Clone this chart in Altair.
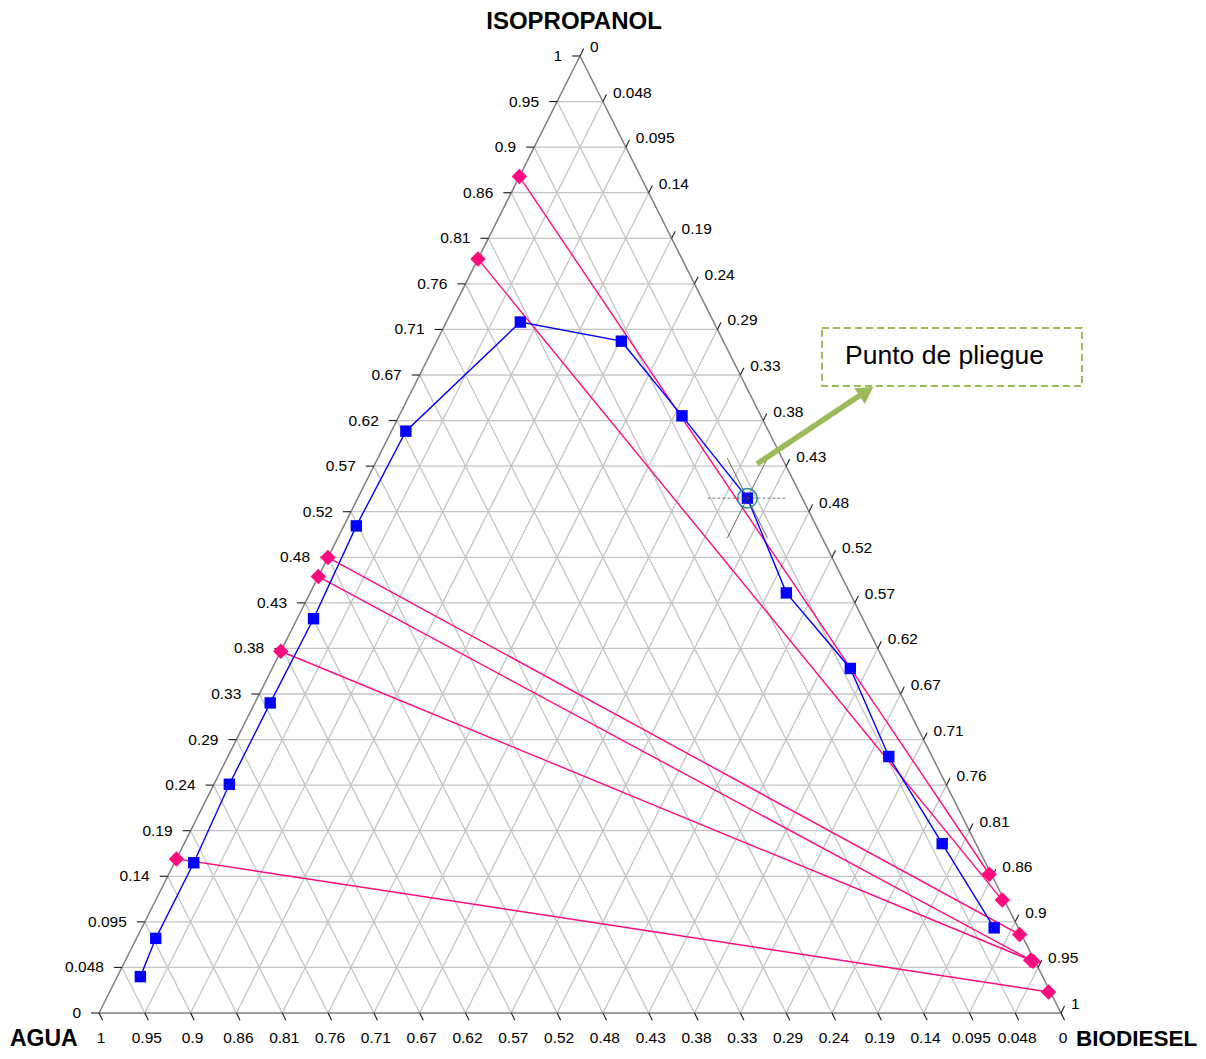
import altair as alt
import pandas as pd

# ---------------- data (mass fractions) ----------------
N_DIV = 21
tick_labels = ["0", "0.048", "0.095", "0.14", "0.19", "0.24", "0.29", "0.33", "0.38",
               "0.43", "0.48", "0.52", "0.57", "0.62", "0.67", "0.71", "0.76", "0.81",
               "0.86", "0.9", "0.95", "1"]

# binodal curve (blue squares): isopropanol and biodiesel fractions
blue_iso = [0.038, 0.078, 0.157, 0.239, 0.324, 0.412, 0.509, 0.608, 0.722,
            0.702, 0.624, 0.538, 0.439, 0.360, 0.268, 0.177, 0.089]
blue_bio = [0.024, 0.020, 0.020, 0.016, 0.016, 0.017, 0.013, 0.015, 0.077,
            0.192, 0.294, 0.405, 0.495, 0.601, 0.687, 0.788, 0.886]

# tie lines (pink diamonds): water-rich end and biodiesel-rich end
raff_iso = [0.874, 0.788, 0.476, 0.456, 0.378, 0.161]
raff_bio = [0.000, 0.000, 0.000, 0.000, 0.000, 0.000]
ext_iso = [0.145, 0.118, 0.082, 0.054, 0.055, 0.022]
ext_bio = [0.853, 0.880, 0.916, 0.944, 0.941, 0.976]

# plait point
plait_iso, plait_bio = 0.538, 0.405

# annotation (in diagram units)
note_text = "Punto de pliegue"
note_box_x = [0.7516, 1.0218]
note_box_y = [0.6552, 0.7158]
note_text_xy = [0.7755, 0.6865]
arrow_start = [0.684, 0.5737]
arrow_end = [0.7931, 0.6468]
arrow_head = [0.7978, 0.6493]

axis_titles = ["ISOPROPANOL", "AGUA", "BIODIESEL"]

# ---------------- layout ----------------
W, H = 1190, 1043
LEFT_PX, BASE_PX = 91, 1005
SX, SY = 962.0, 957.0
XD = [-LEFT_PX / SX, (W - LEFT_PX) / SX]
YD = [-(H - BASE_PX) / SY, BASE_PX / SY]
TL = 8.0  # tick length px
ux, uy = 481.0 / 1071.1, 957.0 / 1071.1

FONT = "Liberation Sans"
GRID_C = "#c4c4c4"
EDGE_C = "#7f7f7f"
BLUE = "#0000ff"
PINK = "#ff0a7f"
GREEN = "#9bbb59"
LAB_FS = 15.5


def cart(iso, bio):
    return bio + iso / 2.0, iso


xs = alt.Scale(domain=XD, nice=False, zero=False)
ys = alt.Scale(domain=YD, nice=False, zero=False)


def X(f="x"):
    return alt.X(f"{f}:Q", scale=xs, axis=None)


def Y(f="y"):
    return alt.Y(f"{f}:Q", scale=ys, axis=None)


def seg_chart(df, **mk):
    return alt.Chart(df).mark_rule(**mk).encode(
        x=X("x"), y=Y("y"), x2=alt.X2("x2"), y2=alt.Y2("y2"))


# grid
grid_rows = []
for k in range(1, N_DIV):
    t = k / N_DIV
    grid_rows.append(dict(x=t / 2, y=t, x2=1 - t / 2, y2=t))
    grid_rows.append(dict(x=1 - t, y=0, x2=(1 - t) / 2, y2=1 - t))
    grid_rows.append(dict(x=t, y=0, x2=(1 + t) / 2, y2=1 - t))
grid = seg_chart(pd.DataFrame(grid_rows), color=GRID_C, strokeWidth=1.3)

edges = seg_chart(pd.DataFrame([
    dict(x=0, y=0, x2=1, y2=0),
    dict(x=0, y=0, x2=0.5, y2=1),
    dict(x=1, y=0, x2=0.5, y2=1),
]), color=EDGE_C, strokeWidth=1.5)

# ticks and labels
tick_rows, left_lab, bot_lab, right_lab = [], [], [], []
for k in range(N_DIV + 1):
    t = k / N_DIV
    lab = tick_labels[k]
    # left axis: isopropanol
    tick_rows.append(dict(x=t / 2, y=t, x2=t / 2 - TL / SX, y2=t))
    left_lab.append(dict(x=t / 2, y=t, label=lab))
    # bottom axis: water (1 at left, 0 at right)
    bx = 1 - t
    tick_rows.append(dict(x=bx, y=0, x2=bx + TL * ux / SX, y2=-TL * uy / SY))
    bot_lab.append(dict(x=bx, y=0, label=lab))
    # right axis: biodiesel (0 at top, 1 at bottom right)
    rx, ry = (1 + t) / 2, 1 - t
    tick_rows.append(dict(x=rx, y=ry, x2=rx + TL * ux / SX, y2=ry + TL * uy / SY))
    right_lab.append(dict(x=rx, y=ry, label=lab))
ticks = seg_chart(pd.DataFrame(tick_rows), color="#1a1a1a", strokeWidth=1.1)


def lab_chart(rows, **mk):
    return alt.Chart(pd.DataFrame(rows)).mark_text(
        font=FONT, fontSize=LAB_FS, color="#000000", **mk).encode(
        x=X(), y=Y(), text="label:N")


left_t = lab_chart(left_lab, align="right", baseline="middle", dx=-18)
bot_t = lab_chart(bot_lab, align="center", baseline="middle", dx=2, dy=25)
right_t = lab_chart(right_lab, align="left", baseline="middle", dx=10, dy=-9)

# titles
tit = pd.DataFrame([dict(x=0.5, y=1.0, label=axis_titles[0])])
tit_top = alt.Chart(tit).mark_text(font=FONT, fontSize=24, fontWeight="bold",
                                   align="center", baseline="middle",
                                   dx=-6, dy=-34, color="#000").encode(
    x=X(), y=Y(), text="label:N")
tit_l = alt.Chart(pd.DataFrame([dict(x=0.0, y=0.0, label=axis_titles[1])])).mark_text(
    font=FONT, fontSize=23, fontWeight="bold", align="left", baseline="alphabetic",
    dx=-89, dy=33, color="#000").encode(x=X(), y=Y(), text="label:N")
tit_r = alt.Chart(pd.DataFrame([dict(x=1.0, y=0.0, label=axis_titles[2])])).mark_text(
    font=FONT, fontSize=22.5, fontWeight="bold", align="left", baseline="alphabetic",
    dx=15, dy=33, color="#000").encode(x=X(), y=Y(), text="label:N")

# tie lines
tie_rows = []
ends = []
for ri, rb, ei, eb in zip(raff_iso, raff_bio, ext_iso, ext_bio):
    x1, y1 = cart(ri, rb)
    x2, y2 = cart(ei, eb)
    tie_rows.append(dict(x=x1, y=y1, x2=x2, y2=y2))
    ends.append(dict(x=x1, y=y1))
    ends.append(dict(x=x2, y=y2))
ties = seg_chart(pd.DataFrame(tie_rows), color=PINK, strokeWidth=1.4)
diamonds = alt.Chart(pd.DataFrame(ends)).mark_point(
    shape="diamond", filled=True, size=240, color=PINK, opacity=1).encode(x=X(), y=Y())

# binodal curve
bdf = pd.DataFrame([dict(idx=i, x=cart(a, b)[0], y=cart(a, b)[1])
                    for i, (a, b) in enumerate(zip(blue_iso, blue_bio))])
bline = alt.Chart(bdf).mark_line(color=BLUE, strokeWidth=1.4).encode(
    x=X(), y=Y(), order="idx:Q")
bsq = alt.Chart(bdf).mark_point(shape="square", filled=True, size=130,
                                color=BLUE, opacity=1).encode(x=X(), y=Y())

# plait point marker
px, py = cart(plait_iso, plait_bio)
d = 40.0
cross_h = seg_chart(pd.DataFrame([dict(x=px - d / SX, y=py, x2=px + d / SX, y2=py)]),
                    color="#555555", strokeWidth=0.8, strokeDash=[3, 2])
cross_d = seg_chart(pd.DataFrame([
    dict(x=px - 0.5 * d / SY, y=py + d / SY, x2=px + 0.5 * d / SY, y2=py - d / SY),
    dict(x=px - 0.5 * d / SY, y=py - d / SY, x2=px + 0.5 * d / SY, y2=py + d / SY),
]), color="#444444", strokeWidth=0.8)
circ = alt.Chart(pd.DataFrame([dict(x=px, y=py)])).mark_point(
    shape="circle", filled=False, size=380, color="#2f8a8a", strokeWidth=1.5,
    opacity=1).encode(x=X(), y=Y())

# annotation
box = alt.Chart(pd.DataFrame([dict(x=note_box_x[0], x2=note_box_x[1],
                                   y=note_box_y[0], y2=note_box_y[1])])).mark_rect(
    fill="#ffffff", fillOpacity=0, stroke=GREEN, strokeWidth=2, strokeDash=[7, 4]).encode(
    x=X(), x2=alt.X2("x2"), y=Y(), y2=alt.Y2("y2"))
note = alt.Chart(pd.DataFrame([dict(x=note_text_xy[0], y=note_text_xy[1],
                                    label=note_text)])).mark_text(
    font=FONT, fontSize=26.5, align="left", baseline="middle", color="#000").encode(
    x=X(), y=Y(), text="label:N")
arrow = seg_chart(pd.DataFrame([dict(x=arrow_start[0], y=arrow_start[1],
                                     x2=arrow_end[0], y2=arrow_end[1])]),
                  color=GREEN, strokeWidth=5.5)
head = alt.Chart(pd.DataFrame([dict(x=arrow_head[0], y=arrow_head[1])])).mark_point(
    shape="triangle-up", filled=True, size=360, color=GREEN, opacity=1,
    angle=56.4).encode(x=X(), y=Y())

chart = alt.layer(
    grid, edges, ticks, left_t, bot_t, right_t, tit_top, tit_l, tit_r,
    ties, bline, bsq, diamonds, cross_h, cross_d, circ, box, note, arrow, head
).properties(
    width=W, height=H, padding=0, autosize=alt.AutoSizeParams(type="none")
).configure_view(stroke=None)

chart.save("out.html", embed_options={"renderer": "svg", "actions": False})
